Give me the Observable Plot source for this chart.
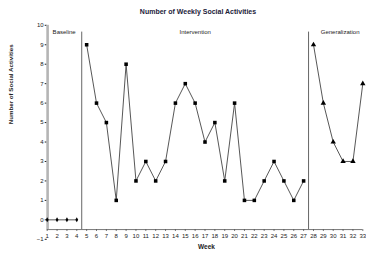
<!DOCTYPE html>
<html>
<head>
<meta charset="utf-8">
<script src="https://cdn.jsdelivr.net/npm/d3@7"></script>
<script src="https://cdn.jsdelivr.net/npm/@observablehq/plot@0.6"></script>
<style>
  html, body { margin: 0; padding: 0; background: #fff; }
  #wrap { width: 366px; height: 254px; overflow: hidden; }
  #title { height: 20px; box-sizing: border-box; padding-top: 8px; text-align: center;
           font: bold 7px "Liberation Sans", Arial, sans-serif; line-height: 7px; color: #22223a;
           padding-left: 30px; }
  svg { display: block; }
</style>
</head>
<body>
<div id="wrap">
  <div id="title">Number of Weekly Social Activities</div>
  <div id="chart"></div>
</div>
<script>
const title = "Number of Weekly Social Activities";
const yLabel = "Number of Social Activities";
const xLabel = "Week";

const baselineWeeks = [1, 2, 3, 4];
const baselineValues = [0, 0, 0, 0];

const interventionWeeks = [5, 6, 7, 8, 9, 10, 11, 12, 13, 14, 15, 16, 17, 18, 19, 20, 21, 22, 23, 24, 25, 26, 27];
const interventionValues = [9, 6, 5, 1, 8, 2, 3, 2, 3, 6, 7, 6, 4, 5, 2, 6, 1, 1, 2, 3, 2, 1, 2];

const generalizationWeeks = [28, 29, 30, 31, 32, 33];
const generalizationValues = [9, 6, 4, 3, 3, 7];

const phaseNames = ["Baseline", "Intervention", "Generalization"];
const phaseChanges = [4.5, 27.5];

const xTicks = d3.range(1, 34);
const yTicks = d3.range(-1, 11);

const data = [
  ...baselineWeeks.map((w, i) => ({week: w, value: baselineValues[i], phase: phaseNames[0]})),
  ...interventionWeeks.map((w, i) => ({week: w, value: interventionValues[i], phase: phaseNames[1]})),
  ...generalizationWeeks.map((w, i) => ({week: w, value: generalizationValues[i], phase: phaseNames[2]}))
];

const textColor = "#222";
const chart = Plot.plot({
  width: 366,
  height: 234,
  marginTop: 4.8,
  marginBottom: 15.2,
  marginLeft: 46.7,
  marginRight: 3.7,
  style: {fontFamily: "'Liberation Sans', Arial, sans-serif", fontSize: "6px", color: textColor, background: "#fff", overflow: "visible"},
  x: {domain: [1, 33]},
  y: {domain: [-1, 10]},
  symbol: {domain: phaseNames, range: ["diamond", "square", "triangle"]},
  marks: [
    // y axis
    Plot.axisY(yTicks, {tickSize: 2, tickPadding: 1.5, fontSize: 6, label: null}),
    // x tick labels (placed at the -1 level like the original)
    Plot.axisX(xTicks, {anchor: "bottom", tickSize: 0, tickPadding: 0, dy: -5.3, fontSize: 6, label: null}),
    // x axis line and ticks
    Plot.ruleY([-0.5], {x1: 1, x2: 33, stroke: "#555", strokeWidth: 0.8}),
    Plot.ruleX(xTicks, {x: d => d, y1: -0.5, y2: -0.6, stroke: "#555", strokeWidth: 0.8}),
    // gray y-axis bar
    Plot.ruleX([1], {y1: -0.5, y2: 10, stroke: "#b5b5b5", strokeWidth: 2.6, dx: 0.4}),
    // phase change lines
    Plot.ruleX(phaseChanges, {y1: -0.5, y2: 9.65, stroke: "#555", strokeWidth: 0.9}),
    // phase labels
    Plot.text([phaseNames[0]], {x: 1.55, y: 9.65, text: d => d, textAnchor: "start", fontSize: 6, fill: textColor}),
    Plot.text([phaseNames[1]], {x: (phaseChanges[0] + phaseChanges[1]) / 2, y: 9.65, text: d => d, fontSize: 6, fill: textColor}),
    Plot.text([phaseNames[2]], {x: 30.7, y: 9.65, text: d => d, fontSize: 6, fill: textColor}),
    // data
    Plot.line(data, {x: "week", y: "value", z: "phase", stroke: "#444", strokeWidth: 0.9}),
    Plot.dot(data, {filter: d => d.phase === phaseNames[0], x: "week", y: "value", symbol: "phase", r: 1.5, fill: "#000", stroke: "none"}),
    Plot.dot(data, {filter: d => d.phase !== phaseNames[0], x: "week", y: "value", symbol: "phase", r: 2, fill: "#000", stroke: "none"}),
    // axis titles
    Plot.text([yLabel], {frameAnchor: "left", rotate: -90, dx: -36.5, dy: -8, fontWeight: "bold", fontSize: 6.2, fill: textColor}),
    Plot.text([xLabel], {frameAnchor: "bottom", dy: 9.3, dx: 1.5, fontWeight: "bold", fontSize: 6.5, fill: textColor})
  ]
});
document.getElementById("chart").appendChild(chart);
</script>
</body>
</html>
